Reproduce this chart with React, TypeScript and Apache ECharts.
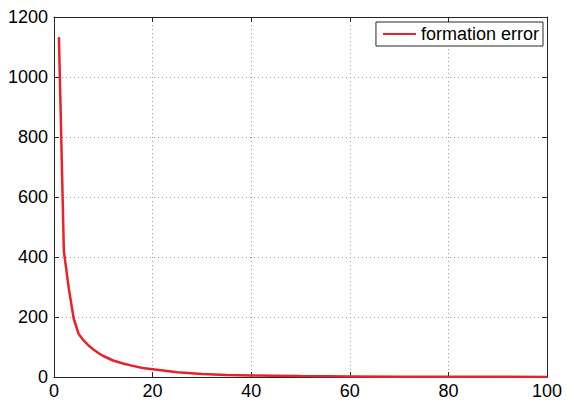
import React, { useEffect, useRef } from "react";
import * as echarts from "echarts";

const iterations = [1, 2, 3, 4, 5, 6, 7, 8, 9, 10, 12, 14, 16, 18, 20, 25, 30, 35, 40, 45, 50, 60, 70, 80, 90, 100];
const formationError = [1133, 420, 295, 195, 143, 122, 105, 92, 80, 70, 55, 45, 37, 30, 26, 16, 10, 7, 5, 4, 3, 2, 1, 1, 0.5, 0.3];
const seriesName = "formation error";

const FONT = "Liberation Sans, Arial, Helvetica, sans-serif";
const AXIS_COLOR = "#262626";

export default function App() {
  const ref = useRef<HTMLDivElement>(null);
  useEffect(() => {
    if (!ref.current) return;
    const chart = echarts.init(ref.current, undefined, { renderer: "svg" });
    const data = iterations.map((x, i) => [x, formationError[i]]);
    const axisLine = { show: true, onZero: false, lineStyle: { color: AXIS_COLOR, width: 1 } };
    const tick = { show: true, inside: true, length: 5, lineStyle: { color: AXIS_COLOR } };
    const split = { show: true, lineStyle: { color: "#9a9a9a", width: 1, type: [1, 3] as any } };
    const fmt = (v: number) => String(v);
    chart.setOption({
      animation: false,
      backgroundColor: "#ffffff",
      grid: { left: 54, right: 20, top: 17, bottom: 27, containLabel: false },
      legend: {
        data: [{ name: seriesName, icon: "rect" }],
        right: 24,
        top: 22,
        orient: "vertical",
        itemWidth: 33,
        itemHeight: 2,
        itemGap: 0,
        padding: [3, 4, 3, 7],
        borderColor: AXIS_COLOR,
        borderWidth: 1,
        backgroundColor: "#ffffff",
        textStyle: { fontFamily: FONT, fontSize: 18, color: "#000" },
      },
      xAxis: [
        {
          type: "value", min: 0, max: 100, interval: 20, position: "bottom",
          axisLine, axisTick: tick, splitLine: split,
          axisLabel: { fontFamily: FONT, fontSize: 18, color: "#000", margin: 5, formatter: fmt },
        },
        {
          type: "value", min: 0, max: 100, interval: 20, position: "top",
          axisLine, axisTick: tick, splitLine: { show: false }, axisLabel: { show: false },
        },
      ],
      yAxis: [
        {
          type: "value", min: 0, max: 1200, interval: 200, position: "left",
          axisLine, axisTick: tick, splitLine: split,
          axisLabel: { fontFamily: FONT, fontSize: 18, color: "#000", margin: 6, formatter: fmt },
        },
        {
          type: "value", min: 0, max: 1200, interval: 200, position: "right",
          axisLine, axisTick: tick, splitLine: { show: false }, axisLabel: { show: false },
        },
      ],
      series: [
        {
          name: seriesName,
          type: "line",
          data,
          xAxisIndex: 0,
          yAxisIndex: 0,
          showSymbol: false,
          symbol: "none",
          smooth: false,
          color: "#ea2128",
          lineStyle: { color: "#ea2128", width: 2.5 },
          z: 5,
        },
      ],
    });
    return () => chart.dispose();
  }, []);
  return <div ref={ref} style={{ width: 567, height: 404, position: "absolute", left: 0, top: 0 }} />;
}
